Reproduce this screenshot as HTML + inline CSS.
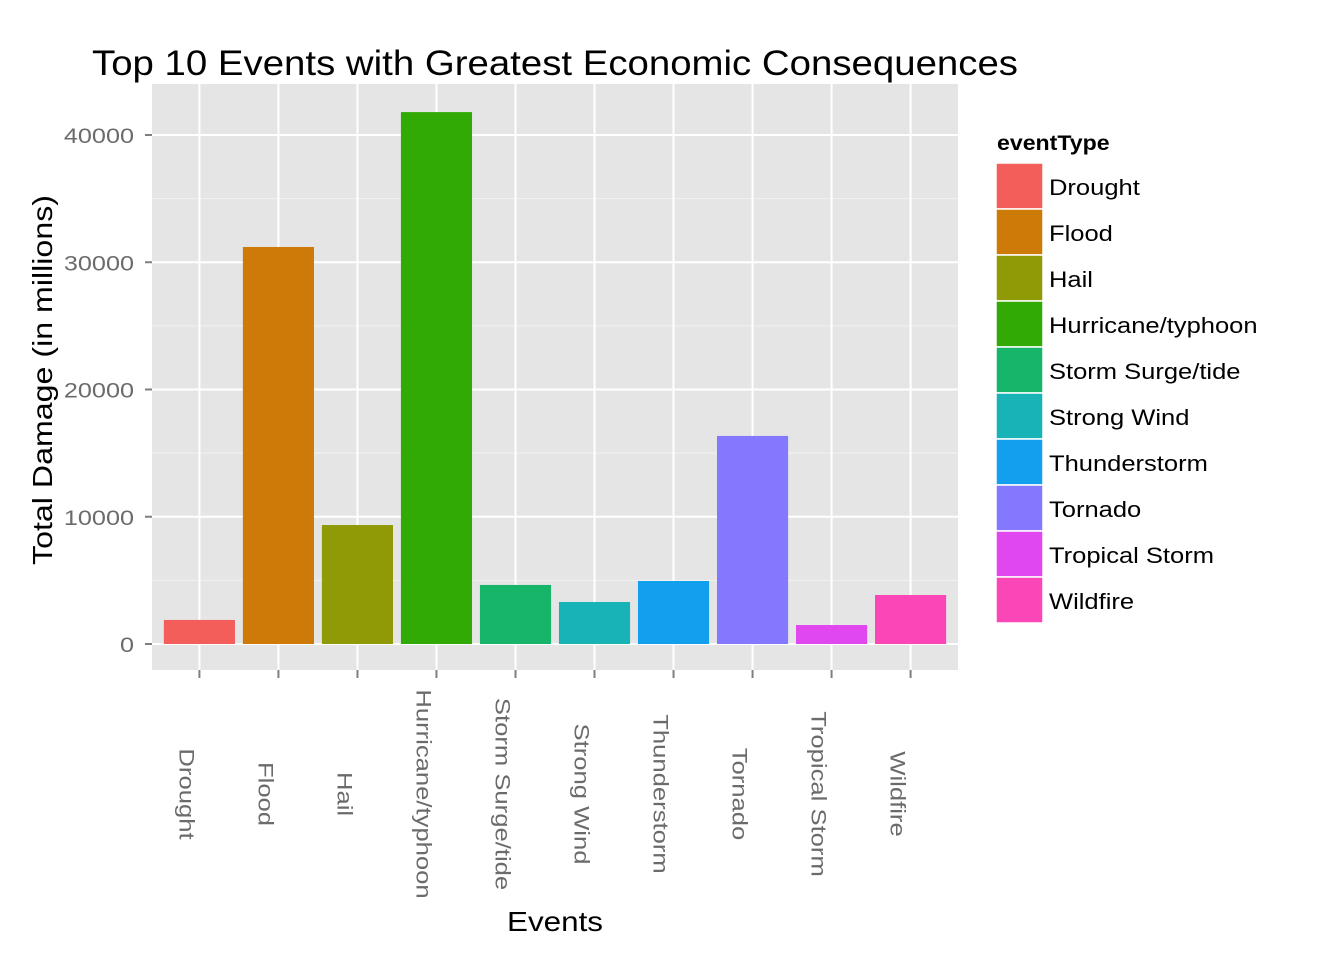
<!DOCTYPE html>
<html><head><meta charset="utf-8"><style>
body{margin:0;background:#fff;font-family:"Liberation Sans",Arial,sans-serif}
</style></head><body>
<svg id="c" width="1344" height="960" xmlns="http://www.w3.org/2000/svg"></svg>
<script>
const categories=["Drought","Flood","Hail","Hurricane/typhoon","Storm Surge/tide","Strong Wind","Thunderstorm","Tornado","Tropical Storm","Wildfire"];
const values=[1890,31200,9350,41800,4640,3300,4950,16350,1490,3850];
const colors=["#F35E5A","#CD7A08","#8F9A06","#31AA05","#17B56A","#17B3B7","#12A0EE","#8479FE","#E047EF","#FA46B6"];
const yTicks=[0,10000,20000,30000,40000];
const yTickLabels=["0","10000","20000","30000","40000"];
const NS="http://www.w3.org/2000/svg";
const svg=document.getElementById('c');
const L=152,R=958,T=84,B=670;
const y0=644,k=(644-135)/40000;
const ys=v=>y0-v*k;
const unit=(R-L)/(categories.length+0.2);
const xs=i=>L+unit*(i+0.6);
function el(t,a,p){const e=document.createElementNS(NS,t);for(const q in a)e.setAttribute(q,a[q]);(p||svg).appendChild(e);return e;}
function stretch(e,f){const w=e.getComputedTextLength();e.setAttribute('textLength',w*f);e.setAttribute('lengthAdjust','spacingAndGlyphs');}
const panel=el('rect',{x:L,y:T,width:R-L,height:B-T,fill:'#E5E5E5'});


for(let i=0;i<yTicks.length;i++){
  const v=yTicks[i]+5000;const yy=ys(v);
  if(yy>T){const g=el('line',{x1:L,x2:R,y1:yy,y2:yy,stroke:'#F2F2F2','stroke-width':1});
  
  }
}
yTicks.forEach((v,i)=>{const yy=ys(v);
  const g=el('line',{x1:L,x2:R,y1:yy,y2:yy,stroke:'#fff','stroke-width':2});
  
  
  const t=el('line',{x1:145,x2:152,y1:yy,y2:yy,stroke:'#7f7f7f','stroke-width':2});
  
  
  const tx=el('text',{x:134,y:yy+8,'text-anchor':'end','font-size':21,fill:'#6b6b6b'});
  tx.textContent=yTickLabels[i];
  
  
  stretch(tx,1.2);
});
categories.forEach((c,i)=>{const x=xs(i);
  const g=el('line',{x1:x,x2:x,y1:T,y2:B,stroke:'#fff','stroke-width':2});
  
  
});
categories.forEach((c,i)=>{const x=xs(i),w=unit*0.9;
  const r=el('rect',{x:x-w/2,y:ys(values[i]),width:w,height:y0-ys(values[i]),fill:colors[i]});
  
  
  const t=el('line',{x1:x,x2:x,y1:B,y2:B+8,stroke:'#7f7f7f','stroke-width':2});
  
  
  const tx=el('text',{x:0,y:0,'text-anchor':'middle','font-size':21,fill:'#6b6b6b',transform:`translate(${x-20},794) rotate(90)`});
  tx.textContent=c;
  
  
  stretch(tx,1.22);
});
const title=el('text',{x:92,y:75,'font-size':35,fill:'#000',textLength:926,lengthAdjust:'spacingAndGlyphs'});title.textContent='Top 10 Events with Greatest Economic Consequences';


const yt=el('text',{x:0,y:0,'text-anchor':'middle','font-size':28,fill:'#000',transform:'translate(52,380) rotate(-90)',textLength:370,lengthAdjust:'spacingAndGlyphs'});yt.textContent='Total Damage (in millions)';


const xt=el('text',{x:555,y:931,'text-anchor':'middle','font-size':28,fill:'#000',textLength:96,lengthAdjust:'spacingAndGlyphs'});xt.textContent='Events';


const lt=el('text',{x:997,y:150,'font-size':21,'font-weight':'bold',fill:'#000'});lt.textContent='eventType';


stretch(lt,1.1);
categories.forEach((c,i)=>{const yy=163+i*46;
  const k2=el('rect',{x:996,y:yy,width:47,height:46,fill:colors[i],stroke:'#fff','stroke-width':1.5});
  
  
  const tx=el('text',{x:1049,y:yy+32,'font-size':22,fill:'#000'});tx.textContent=c;
  
  
  stretch(tx,1.16);
});
</script>
</body></html>
